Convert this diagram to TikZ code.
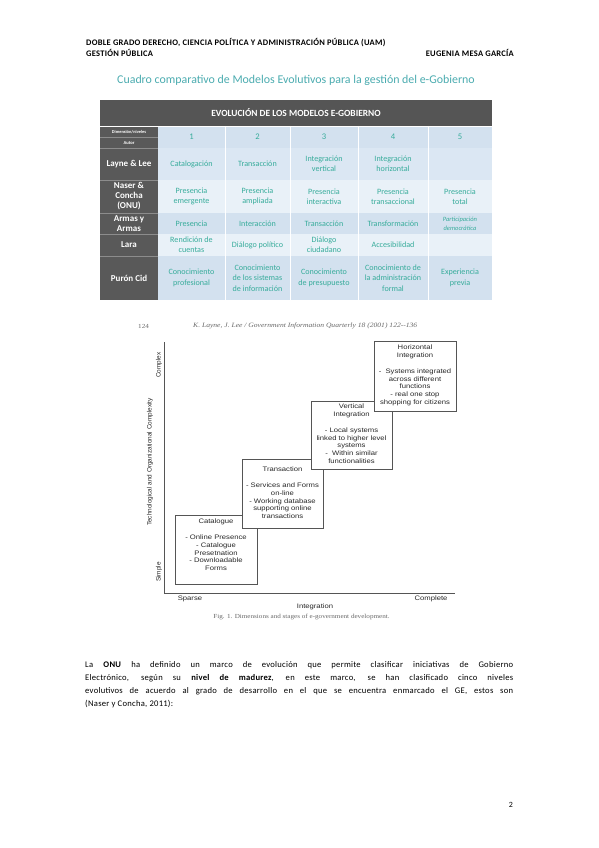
\documentclass[tikz,border=0pt]{standalone}
\usepackage{fontspec}
\setmainfont{Carlito}
\newfontfamily\chartfont[FakeStretch=1.18]{Liberation Sans}
\newfontfamily\chartfontv{Liberation Sans}
\newfontfamily\timesw[FakeStretch=1.15]{Liberation Serif}
\newfontfamily\hdrfont[LetterSpace=3]{Carlito}
\newfontfamily\bodyfont[LetterSpace=3]{Carlito}
\definecolor{tealtxt}{RGB}{55,172,155}
\definecolor{titleteal}{RGB}{75,172,176}
\definecolor{hdrgray}{RGB}{85,85,85}
\definecolor{leftgray}{RGB}{89,89,89}
\definecolor{sepgray}{RGB}{140,140,140}
\definecolor{rowA}{RGB}{211,225,239}
\definecolor{rowB}{RGB}{219,231,243}
\definecolor{rowC}{RGB}{233,241,248}
\definecolor{chartline}{RGB}{85,85,85}
\definecolor{charttext}{RGB}{40,40,40}
\begin{document}
\begin{tikzpicture}[x=1pt,y=-1pt,
  hdr/.style={inner sep=0pt, font=\hdrfont\bfseries\fontsize{8.5}{10}\selectfont, text=black},
  ttlstyle/.style={inner sep=0pt, font=\fontsize{11.9}{13}\selectfont, text=titleteal},
  cell/.style={inner sep=0pt, align=center, text=tealtxt, font=\fontsize{8.1}{9.8}\selectfont},
  lhead/.style={inner sep=0pt, align=center, text=white, font=\bfseries\fontsize{9}{10}\selectfont},
  stagebox/.style={draw=chartline, line width=0.7pt, fill=white, inner sep=0pt},
  stagetxt/.style={inner sep=0pt, align=center, anchor=north, text=charttext, font=\chartfont\fontsize{6.5}{7.8}\selectfont},
  axlab/.style={inner sep=0pt, text=charttext, font=\chartfont\fontsize{6.5}{7.8}\selectfont},
  axlabv/.style={inner sep=0pt, text=charttext, rotate=90, font=\chartfontv\fontsize{6.4}{7.8}\selectfont},
  jtxt/.style={inner sep=0pt, text=charttext!70, font=\timesw\fontsize{6.2}{7}\selectfont},
  axisline/.style={draw=chartline, line width=0.8pt}
]
\useasboundingbox (0,0) rectangle (599,848);
\fill[white] (0,0) rectangle (599,848);

% ---- page header
\node[hdr, anchor=base west] (h1) at (86,46) {DOBLE GRADO DERECHO, CIENCIA POLÍTICA Y ADMINISTRACIÓN PÚBLICA (UAM)};
\node[hdr, anchor=base west] (h2) at (86,57) {GESTIÓN PÚBLICA};
\node[hdr, anchor=base east] (h3) at (514,57) {EUGENIA MESA GARCÍA};
\node[ttlstyle] (ttl) at (296,80) {Cuadro comparativo de Modelos Evolutivos para la gestión del e-Gobierno};

% ---- table backgrounds
\fill[hdrgray] (100,100) rectangle (492,126);
\fill[rowA] (158,126) rectangle (492,148);
\fill[rowB] (158,148) rectangle (492,180);
\fill[rowC] (158,180) rectangle (492,213);
\fill[rowA] (158,213) rectangle (492,234);
\fill[rowC] (158,234) rectangle (492,256);
\fill[rowA] (158,256) rectangle (492,300);
\fill[leftgray] (100,126) rectangle (158,300);
\foreach \xx in {225,290,358,428} \draw[white, line width=0.8pt] (\xx,126) -- (\xx,300);
\draw[white, line width=0.6pt] (100,126) -- (492,126);
\foreach \yy in {137,148,180,213,234,256} \draw[sepgray, line width=0.4pt] (100,\yy) -- (158,\yy);

% ---- table text
\node[lhead, font=\bfseries\fontsize{9.4}{10}\selectfont] (thead) at (296,113) {EVOLUCIÓN DE LOS MODELOS E-GOBIERNO};
\node[lhead, font=\bfseries\fontsize{4.4}{5}\selectfont] (ldim) at (129,131.8) {Dimensión/niveles};
\node[lhead, font=\bfseries\fontsize{4.6}{5}\selectfont] (laut) at (129,142.6) {Autor};
\node[lhead] (llay) at (129,164) {Layne \& Lee};
\node[lhead] (lnas) at (129,196.5) {Naser \&\\Concha\\(ONU)};
\node[lhead] (larm) at (129,223.5) {Armas y\\Armas};
\node[lhead] (llar) at (129,245) {Lara};
\node[lhead] (lpur) at (129,278) {Purón Cid};

\node[cell, font=\fontsize{8.6}{9.8}\selectfont] (n1) at (191.5,137) {1};
\node[cell, font=\fontsize{8.6}{9.8}\selectfont] (n2) at (257.5,137) {2};
\node[cell, font=\fontsize{8.6}{9.8}\selectfont] (n3) at (324,137) {3};
\node[cell, font=\fontsize{8.6}{9.8}\selectfont] (n4) at (393,137) {4};
\node[cell, font=\fontsize{8.6}{9.8}\selectfont] (n5) at (460,137) {5};

\node[cell] (c11) at (191.5,164) {Catalogación};
\node[cell] (c12) at (257.5,164) {Transacción};
\node[cell] (c13) at (324,164) {Integración\\vertical};
\node[cell] (c14) at (393,164) {Integración\\horizontal};

\node[cell] (c21) at (191.5,196.5) {Presencia\\emergente};
\node[cell] (c22) at (257.5,196.5) {Presencia\\ampliada};
\node[cell] (c23) at (324,196.5) {Presencia\\interactiva};
\node[cell] (c24) at (393,196.5) {Presencia\\transaccional};
\node[cell] (c25) at (460,196.5) {Presencia\\total};

\node[cell] (c31) at (191.5,223.5) {Presencia};
\node[cell] (c32) at (257.5,223.5) {Interacción};
\node[cell] (c33) at (324,223.5) {Transacción};
\node[cell] (c34) at (393,223.5) {Transformación};
\node[cell, font=\itshape\fontsize{6.5}{9.4}\selectfont] (c35) at (460,223.5) {Participación\\democrática};

\node[cell] (c41) at (191.5,245) {Rendición de\\cuentas};
\node[cell] (c42) at (257.5,245) {Diálogo político};
\node[cell] (c43) at (324,245) {Diálogo\\ciudadano};
\node[cell] (c44) at (393,245) {Accesibilidad};

\node[cell, font=\fontsize{8.1}{10.4}\selectfont] (c51) at (191.5,278) {Conocimiento\\profesional};
\node[cell, font=\fontsize{8.1}{10.4}\selectfont] (c52) at (257.5,278) {Conocimiento\\de los sistemas\\de información};
\node[cell, font=\fontsize{8.1}{10.4}\selectfont] (c53) at (324,278) {Conocimiento\\de presupuesto};
\node[cell, font=\fontsize{8.1}{10.4}\selectfont] (c54) at (393,278) {Conocimiento de\\la administración\\formal};
\node[cell, font=\fontsize{8.1}{10.4}\selectfont] (c55) at (460,278) {Experiencia\\previa};

% ---- chart
\node[jtxt, anchor=west] (jnum) at (138,326) {124};
\node[jtxt, anchor=west, font=\timesw\fontsize{6.6}{7}\selectfont] (jref) at (193,326) {\itshape K. Layne, J. Lee / Government Information Quarterly 18 (2001) 122--136};

\coordinate (ytop) at (164,342);
\coordinate (orig) at (164,593);
\coordinate (xend) at (455,593);
\draw[axisline] (ytop) -- (orig) -- (xend);

\node[stagebox, minimum width=82pt, minimum height=69pt] (catbox) at (216,549.5) {};
\node[stagetxt] (cattxt) at (216,519) {Catalogue\\[7.8pt]- Online Presence\\- Catalogue\\Presetnation\\- Downloadable\\Forms};

\node[stagebox, minimum width=81pt, minimum height=69pt] (trabox) at (282.5,493.5) {};
\node[stagetxt] (tratxt) at (282.5,467) {Transaction\\[7.8pt]- Services and Forms\\on-line\\- Working database\\supporting online\\transactions};

\node[stagebox, minimum width=81pt, minimum height=68pt] (verbox) at (351.5,435) {};
\node[stagetxt] (vertxt) at (351.5,404) {Vertical\\Integration\\[7.8pt]- Local systems\\linked to higher level\\systems\\-~~Within similar\\functionalities};

\node[stagebox, minimum width=82pt, minimum height=70pt] (horbox) at (415,376) {};
\node[stagetxt] (hortxt) at (415,345) {Horizontal\\Integration\\[7.8pt]-~~Systems integrated\\across different\\functions\\- real one stop\\shopping for citizens};

\node[axlab] (sparse) at (190,599) {Sparse};
\node[axlab] (complete) at (431,599) {Complete};
\node[axlab] (integ) at (315,606.5) {Integration};
\node[axlabv] (complex) at (159,365) {Complex};
\node[axlabv] (simple) at (159,572) {Simple};
\node[axlabv] (tech) at (150,462) {Technological and Organizational Complexity};
\node[jtxt] (figcap) at (301.5,617) {Fig. 1. Dimensions and stages of e-government development.};

% ---- body text
\node[inner sep=0pt, anchor=north west, text width=428pt, align=justify, font=\bodyfont\fontsize{8.6}{13}\selectfont] (body) at (85,661)
{La \textbf{ONU} ha definido un marco de evolución que permite clasificar iniciativas de Gobierno\linebreak
Electrónico, según su \textbf{nivel de madurez}, en este marco, se han clasificado cinco niveles\linebreak
evolutivos de acuerdo al grado de desarrollo en el que se encuentra enmarcado el GE, estos son\linebreak
(Naser y Concha, 2011):};

\node[inner sep=0pt, font=\fontsize{8}{9}\selectfont] (pnum) at (511,805) {2};
\end{tikzpicture}
\end{document}
